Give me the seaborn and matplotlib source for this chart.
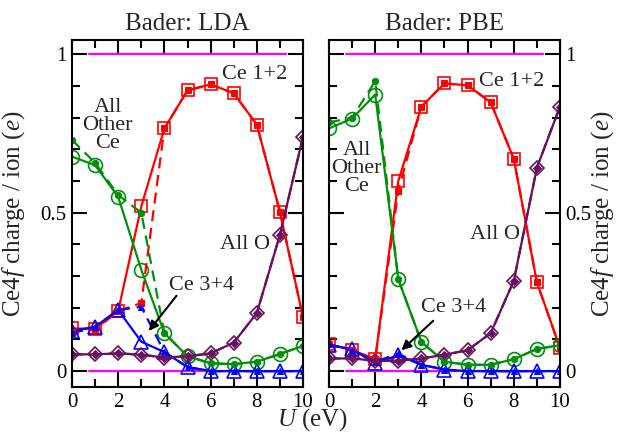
import numpy as np
import pandas as pd
import matplotlib
matplotlib.use("Agg")
import matplotlib.pyplot as plt
from matplotlib.ticker import MultipleLocator, FixedLocator
import seaborn as sns

#---------- Dados ----------
U = [0, 1, 2, 3, 4, 5, 6, 7, 8, 9, 10]

# LDA - linha cheia (marcadores abertos)
lda_ce12 = [0.135, 0.133, 0.19, 0.52, 0.766, 0.886, 0.905, 0.877, 0.778, 0.503, 0.17]
lda_other = [0.677, 0.65, 0.55, 0.32, 0.12, 0.047, 0.025, 0.022, 0.03, 0.054, 0.08]
lda_ce34 = [0.127, 0.14, 0.193, 0.093, 0.06, 0.013, 0.0, 0.0, 0.0, 0.0, 0.0]
lda_O = [0.053, 0.053, 0.056, 0.052, 0.043, 0.047, 0.056, 0.09, 0.183, 0.43, 0.74]
# LDA - tracejada (marcadores cheios)
lda_ce12_b = [0.125, 0.13, 0.19, 0.215, 0.766, 0.886, 0.905, 0.877, 0.778, 0.503, 0.17]
lda_other_b = [0.73, 0.657, 0.556, 0.5, 0.12, 0.047, 0.025, 0.022, 0.03, 0.054, 0.08]
lda_ce34_b = [0.12, 0.14, 0.193, 0.203, 0.06, 0.013, 0.0, 0.0, 0.0, 0.0, 0.0]
lda_O_b = [0.053, 0.053, 0.056, 0.052, 0.043, 0.047, 0.056, 0.09, 0.183, 0.43, 0.74]

# PBE - linha cheia
pbe_ce12 = [0.085, 0.066, 0.038, 0.6, 0.835, 0.908, 0.902, 0.848, 0.67, 0.28, 0.073]
pbe_other = [0.766, 0.797, 0.873, 0.29, 0.092, 0.03, 0.02, 0.02, 0.038, 0.07, 0.082]
pbe_ce34 = [0.082, 0.07, 0.025, 0.05, 0.02, 0.005, 0.0, 0.0, 0.0, 0.0, 0.0]
pbe_O = [0.04, 0.04, 0.033, 0.033, 0.04, 0.052, 0.066, 0.12, 0.285, 0.642, 0.835]
# PBE - tracejada
pbe_ce12_b = [0.085, 0.066, 0.038, 0.57, 0.835, 0.908, 0.902, 0.848, 0.67, 0.28, 0.073]
pbe_other_b = [0.785, 0.8, 0.915, 0.29, 0.092, 0.03, 0.02, 0.02, 0.038, 0.07, 0.082]
pbe_ce34_b = [0.085, 0.065, 0.03, 0.055, 0.02, 0.005, 0.0, 0.0, 0.0, 0.0, 0.0]
pbe_O_b = [0.04, 0.04, 0.033, 0.033, 0.04, 0.052, 0.066, 0.12, 0.285, 0.642, 0.835]

# linhas de referencia (magenta) em 0 e 1
ref_x = [0.75, 9.25]
ref_levels = [0.0, 1.0]

#---------- Estilo ----------
sns.set_theme(style="ticks")
plt.rcParams['font.family'] = ['Liberation Serif', 'DejaVu Serif']
plt.rcParams['mathtext.fontset'] = 'custom'
plt.rcParams['mathtext.rm'] = 'Liberation Serif'
plt.rcParams['mathtext.it'] = 'Liberation Serif:italic'

RED = '#ff0000'
GREEN = '#00900a'
BLUE = '#0000ff'
PURPLE = '#6a1060'
MAG = '#ff00ff'

fig = plt.figure(figsize=(6.18, 4.37), dpi=100)
axL = fig.add_axes([72/618, 1-387/437, 231/618, 347/437])
axR = fig.add_axes([329/618, 1-387/437, 231/618, 347/437])


def draw_panel(ax, solid, dashed):
    for lv in ref_levels:
        sns.lineplot(x=ref_x, y=[lv, lv], ax=ax, color=MAG, linewidth=1.6)
    styles = [(RED, 's', 9), (GREEN, 'o', 10), (BLUE, '^', 10), (PURPLE, 'D', 7.5)]
    for vals, (c, m, ms) in zip(solid, styles):
        sns.lineplot(x=U, y=vals, ax=ax, color=c, linewidth=1.6, marker=m,
                     markersize=ms, markerfacecolor='none', markeredgecolor=c,
                     markeredgewidth=1.2)
    for vals, (c, m, ms) in zip(dashed, styles):
        sns.lineplot(x=U, y=vals, ax=ax, color=c, linewidth=1.6, linestyle=(0, (5, 3)),
                     marker=m, markersize=4.5, markerfacecolor=c, markeredgecolor=c)
    ax.set_xlim(0, 10)
    ax.set_ylim(-0.05, 1.045)
    ax.xaxis.set_major_locator(MultipleLocator(2))
    ax.xaxis.set_minor_locator(MultipleLocator(1))
    ax.yaxis.set_major_locator(FixedLocator([0, 0.5, 1]))
    ax.yaxis.set_minor_locator(MultipleLocator(0.1))
    ax.set_yticklabels(['0', '0.5', '1'])
    ax.tick_params(which='both', direction='in', top=True, right=True,
                   width=1.5, colors='black', labelsize=15, pad=4)
    ax.tick_params(which='major', length=11)
    ax.tick_params(which='minor', length=6)
    for sp in ax.spines.values():
        sp.set_linewidth(1.5)
        sp.set_color('black')
    ax.set_xlabel('')
    ax.set_ylabel(r'Ce$4f$ charge / ion ($e$)', fontsize=18)


draw_panel(axL, [lda_ce12, lda_other, lda_ce34, lda_O],
           [lda_ce12_b, lda_other_b, lda_ce34_b, lda_O_b])
draw_panel(axR, [pbe_ce12, pbe_other, pbe_ce34, pbe_O],
           [pbe_ce12_b, pbe_other_b, pbe_ce34_b, pbe_O_b])

axL.set_title('Bader: LDA', fontsize=18, pad=7)
axR.set_title('Bader: PBE', fontsize=18, pad=7)
axR.yaxis.set_label_position('right')
axR.tick_params(axis='y', labelleft=False, labelright=True)
axL.yaxis.set_label_coords(-0.195, 0.5)
axR.yaxis.set_label_coords(1.128, 0.5)

fig.text(313/618, 1-420/437, r'$U$ (eV)', fontsize=18, ha='center', va='center')

#---------- Anotacoes ----------
fs = 16
axL.text(1.55, 0.775, 'All\nOther\nCe', fontsize=fs, ha='center', va='center', linespacing=0.95)
axL.text(7.9, 0.935, 'Ce 1+2', fontsize=fs, ha='center', va='center')
axL.text(7.5, 0.40, 'All O', fontsize=fs, ha='center', va='center')
axL.text(5.6, 0.27, 'Ce 3+4', fontsize=fs, ha='center', va='center')
axL.annotate('', xy=(3.25, 0.12), xytext=(4.6, 0.245),
             arrowprops=dict(arrowstyle='-|>', color='black', lw=1.5, mutation_scale=14))

axR.text(1.2, 0.64, 'All\nOther\nCe', fontsize=fs, ha='center', va='center', linespacing=0.95)
axR.text(7.9, 0.915, 'Ce 1+2', fontsize=fs, ha='center', va='center')
axR.text(7.2, 0.43, 'All O', fontsize=fs, ha='center', va='center')
axR.text(5.4, 0.2, 'Ce 3+4', fontsize=fs, ha='center', va='center')
axR.annotate('', xy=(3.05, 0.06), xytext=(4.6, 0.165),
             arrowprops=dict(arrowstyle='-|>', color='black', lw=1.5, mutation_scale=14))

fig.savefig('out.png', dpi=100)
